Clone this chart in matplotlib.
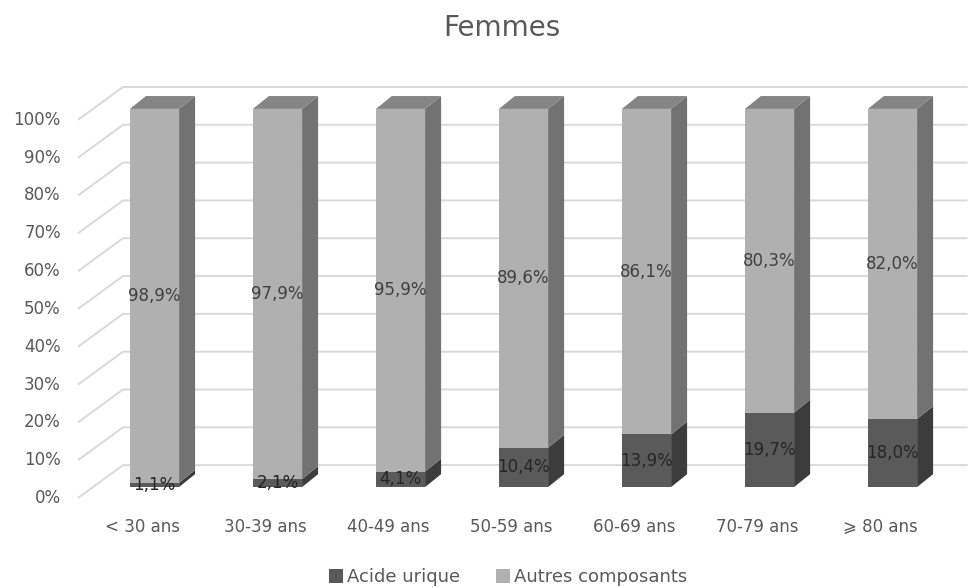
import matplotlib
matplotlib.use("Agg")
import matplotlib.pyplot as plt
from matplotlib.patches import Polygon, Patch

# data
categories = ['< 30 ans', '30-39 ans', '40-49 ans', '50-59 ans', '60-69 ans', '70-79 ans', '\u2a7e 80 ans']
acide_urique = [1.1, 2.1, 4.1, 10.4, 13.9, 19.7, 18.0]
autres_composants = [98.9, 97.9, 95.9, 89.6, 86.1, 80.3, 82.0]
yticks = list(range(0, 101, 10))

# pseudo-3D geometry (in data units: x = category, y = percent)
bar_w = 0.4
depth_dx, depth_dy = 0.13, 3.4
wall_x0, wall_x1, wall_dy = -0.256, 6.61, 5.8
front_x0, front_dy = -0.622, -2.9

cols = {'acide': ('#5a5a5a', '#3c3c3c', '#4a4a4a'),
        'autres': ('#b0b0b0', '#727272', '#858585')}

plt.rcParams['font.family'] = ['DejaVu Sans']
fig = plt.figure(figsize=(9.7, 5.88), dpi=100)
ax = fig.add_axes([0, 0, 1, 1])
ax.set_xlim(-1.256, 6.63)
ax.set_ylim(-26.7, 128.8)
ax.axis('off')

# back wall gridlines + diagonals, tick labels
for p in yticks:
    ax.plot([front_x0, wall_x0, wall_x1], [p + front_dy, p + wall_dy, p + wall_dy],
            color='#d9d9d9', lw=1.4, zorder=1, solid_capstyle='butt')
    ax.text(front_x0 - 0.14, p + front_dy, f'{p}%', ha='right', va='center',
            fontsize=12, color='#595959')


def draw_box(x, y0, y1, colors, top=False):
    front, side, topc = colors
    xl, xr = x - bar_w / 2, x + bar_w / 2
    ax.add_patch(Polygon([(xl, y0), (xr, y0), (xr, y1), (xl, y1)], closed=True,
                         facecolor=front, edgecolor='none', zorder=3))
    ax.add_patch(Polygon([(xr, y0), (xr + depth_dx, y0 + depth_dy),
                          (xr + depth_dx, y1 + depth_dy), (xr, y1)], closed=True,
                         facecolor=side, edgecolor='none', zorder=3))
    if top:
        ax.add_patch(Polygon([(xl, y1), (xl + depth_dx, y1 + depth_dy),
                              (xr + depth_dx, y1 + depth_dy), (xr, y1)], closed=True,
                             facecolor=topc, edgecolor='none', zorder=3))


for i, (a, b) in enumerate(zip(acide_urique, autres_composants)):
    draw_box(i, 0, a, cols['acide'])
    draw_box(i, a, a + b, cols['autres'], top=True)
    ax.text(i, a / 2, f'{a:.1f}%'.replace('.', ','), ha='center', va='center',
            fontsize=12, color='#262626', zorder=4)
    ax.text(i, a + b / 2, f'{b:.1f}%'.replace('.', ','), ha='center', va='center',
            fontsize=12, color='#404040', zorder=4)
    ax.text(i - 0.1, -10.6, categories[i], ha='center', va='center',
            fontsize=12, color='#595959')

fig.text(502 / 970, 1 - 27.5 / 588, 'Femmes', ha='center', va='center',
         fontsize=20, color='#595959')

handles = [Patch(facecolor=cols['acide'][0], label='Acide urique'),
           Patch(facecolor=cols['autres'][0], label='Autres composants')]
leg = fig.legend(handles=handles, loc='center', bbox_to_anchor=(508 / 970, 1 - 577 / 588),
                 ncol=2, frameon=False, fontsize=13, handlelength=0.8, handleheight=0.8,
                 handletextpad=0.2, columnspacing=2.0, borderpad=0)
for t in leg.get_texts():
    t.set_color('#595959')

fig.savefig('out.png', dpi=100)
